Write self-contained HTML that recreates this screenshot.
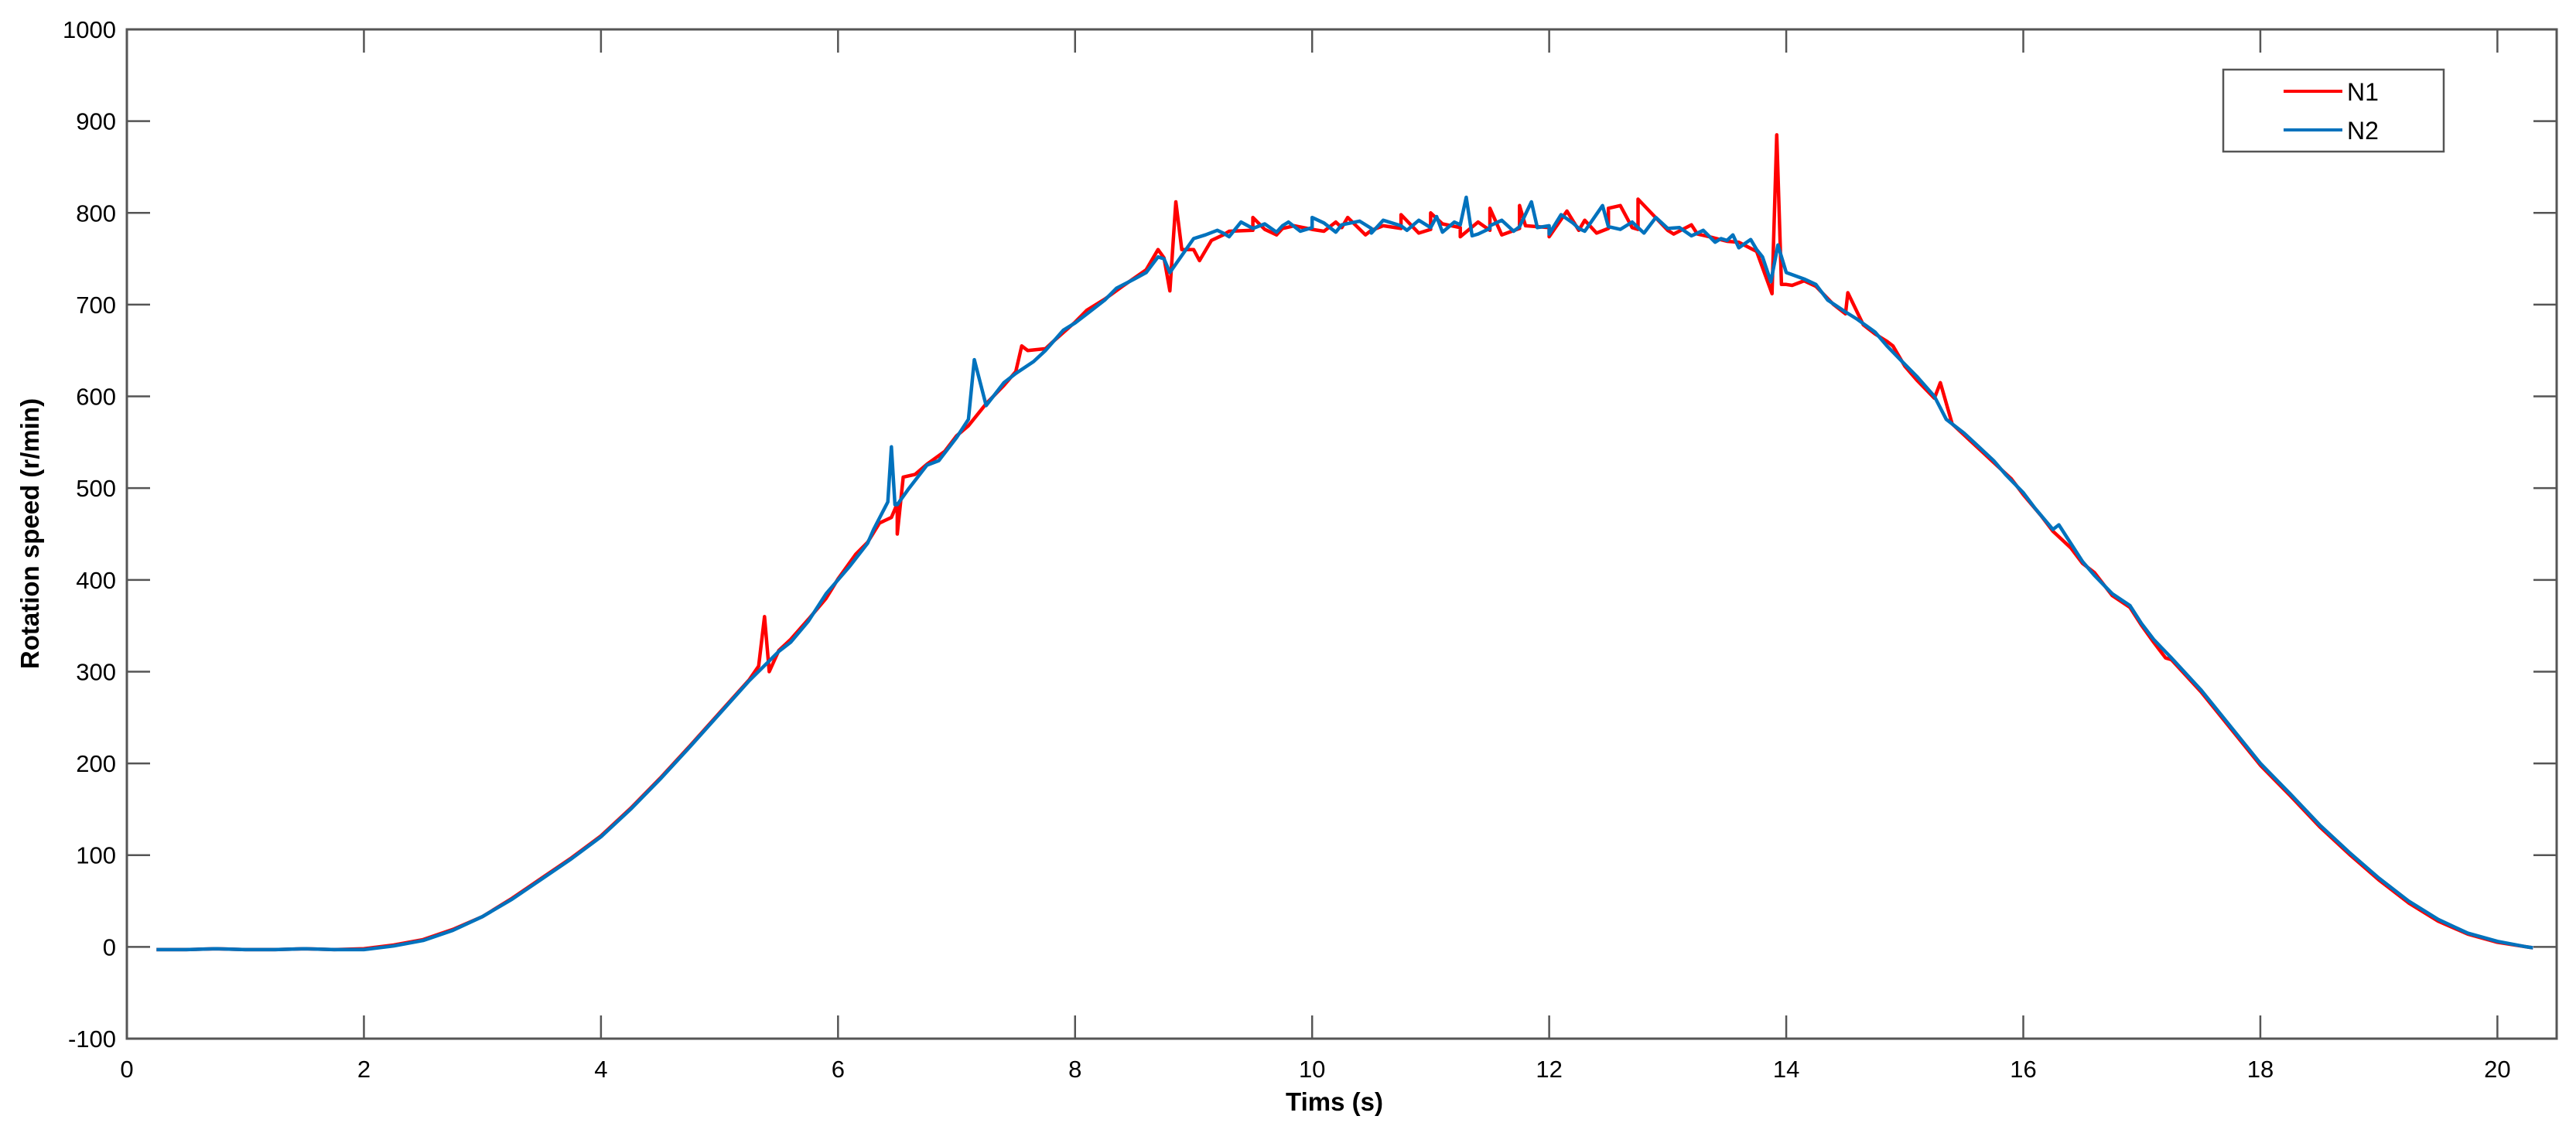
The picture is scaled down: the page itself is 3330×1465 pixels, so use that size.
<!DOCTYPE html>
<html><head><meta charset="utf-8"><style>
html,body{margin:0;padding:0;background:#fff;}
svg{display:block;font-family:"Liberation Sans",Arial,sans-serif;}
</style></head><body>
<svg id="chart" width="3330" height="1465" viewBox="0 0 3330 1465" xmlns="http://www.w3.org/2000/svg">
<rect x="0" y="0" width="3330" height="1465" fill="#fff"/>
<g id="axes"></g>
<g id="series"></g>
<rect x="164" y="38" width="3141" height="1305" fill="none" stroke="#555" stroke-width="3"/>
<text x="1725" y="1436" font-size="33" font-weight="bold" text-anchor="middle">Tims (s)</text>
<text transform="translate(50,690) rotate(-90)" font-size="33" font-weight="bold" text-anchor="middle">Rotation speed (r/min)</text>
<g>
<rect x="2874" y="90" width="285" height="106" fill="#fff" stroke="#555" stroke-width="2.5"/>
<line x1="2952" y1="118" x2="3028" y2="118" stroke="#FF0000" stroke-width="4"/>
<text x="3034" y="130" font-size="32">N1</text>
<line x1="2952" y1="168" x2="3028" y2="168" stroke="#0072BD" stroke-width="4"/>
<text x="3034" y="180" font-size="32">N2</text>
</g>
</svg>
<script>
const xTicks = [0,2,4,6,8,10,12,14,16,18,20];
const yTicks = [-100,0,100,200,300,400,500,600,700,800,900,1000];
const times = [0.25,0.5,0.75,1,1.25,1.5,1.75,2,2.25,2.5,2.75,3,3.25,3.5,3.75,4,4.25,4.5,4.75,5,5.25,5.5,5.75,6,6.25,6.5,6.75,7,7.25,7.5,7.75,8,8.25,8.5,8.75,9,9.25,9.5,9.75,10,10.25,10.5,10.75,11,11.25,11.5,11.75,12,12.25,12.5,12.75,13,13.25,13.5,13.75,14,14.25,14.5,14.75,15,15.25,15.5,15.75,16,16.25,16.5,16.75,17,17.25,17.5,17.75,18,18.25,18.5,18.75,19,19.25,19.5,19.75,20,20.25,20.3];
const n2Values = [-3,-3,-2,-3,-3,-2,-3,-3,1,7,18,33,52,74,96,120,150,183,218,254,290,322,355,400,440,482,525,555,590,625,650,680,705,728,750,772,778,783,786,784,787,783,786,784,787,783,785,786,783,785,784,783,778,770,760,735,722,692,670,635,600,560,530,495,455,420,385,352,315,280,240,200,167,133,103,75,50,30,15,6,0,-1];
const n1Values = [-3,-3,-2,-3,-3,-2,-3,-2,2,8,19,33,53,75,97,121,151,184,219,255,291,323,357,401,441,483,526,557,592,627,652,681,706,729,751,760,776,781,783,782,784,781,783,782,784,781,783,784,781,783,782,781,777,769,758,722,720,690,668,633,598,558,528,493,453,418,383,350,313,278,238,198,165,131,101,73,48,28,14,5,0,-1];
const n1SpikeT = [5.33,5.38,5.42,5.6,5.9,6.15,6.35,6.45,6.5,6.55,6.65,6.9,7.1,7.4,7.55,7.6,7.8,8.1,8.4,8.6,8.7,8.8,8.85,8.9,9.05,9.15,9.3,9.5,9.6,9.7,9.85,10.1,10.2,10.3,10.45,10.6,10.75,10.9,11.0,11.1,11.25,11.4,11.5,11.6,11.75,11.8,12.0,12.15,12.3,12.4,12.5,12.6,12.7,12.75,13.05,13.2,13.35,13.6,13.75,13.88,13.92,13.96,14.05,14.15,14.4,14.52,14.65,14.85,14.9,15.1,15.3,15.4,15.65,15.9,16.15,16.4,16.6,16.9,17.1,17.2];
const n1SpikeV = [306,360,300,335,380,428,462,468,450,512,515,540,568,612,655,650,658,694,720,738,760,715,812,760,748,770,780,795,782,776,786,780,790,795,776,786,798,778,800,788,774,790,805,776,808,786,774,802,792,778,805,808,784,815,777,787,774,768,758,712,885,722,721,726,700,713,678,660,655,618,615,570,540,510,470,435,408,370,332,315];
const n2SpikeT = [5.6,5.9,6.1,6.3,6.42,6.45,6.48,6.6,6.85,7.1,7.15,7.4,7.65,7.9,8.1,8.35,8.6,8.7,8.8,9.1,9.2,9.3,9.4,9.6,9.7,9.8,9.9,10.0,10.1,10.2,10.4,10.5,10.6,10.7,10.8,10.9,11.05,11.1,11.2,11.3,11.35,11.4,11.5,11.6,11.7,11.85,11.9,12.0,12.1,12.2,12.3,12.45,12.6,12.7,12.8,12.9,13.1,13.2,13.3,13.4,13.45,13.55,13.6,13.7,13.8,13.87,13.93,14.15,14.35,14.6,14.85,15.1,15.35,15.6,15.85,16.1,16.3,16.4,16.6,16.9,17.1];
const n2SpikeV = [332,385,415,455,485,545,482,500,530,575,640,615,638,672,690,718,735,752,735,776,781,774,790,788,779,790,780,795,789,779,791,778,792,788,781,792,796,779,790,817,775,777,786,792,780,812,784,777,798,789,780,808,782,790,778,795,784,775,781,768,772,776,762,771,752,725,765,728,705,684,655,622,575,548,515,478,460,440,405,372,335];

const X0=164, X1=3305, Y0=1343, Y1=38, XMIN=0, XMAX=20.5, YMIN=-100, YMAX=1000;
function xs(v){return X0+(v-XMIN)/(XMAX-XMIN)*(X1-X0);}
function ys(v){return Y0-(v-YMIN)/(YMAX-YMIN)*(Y0-Y1);}
const NS="http://www.w3.org/2000/svg";
const axes=document.getElementById('axes');
const series=document.getElementById('series');
function mk(tag,attrs,parent){const e=document.createElementNS(NS,tag);for(const k in attrs)e.setAttribute(k,attrs[k]);parent.appendChild(e);return e;}

xTicks.forEach(t=>{
  const x=xs(t);
  const a=mk('line',{x1:x,y1:Y0,x2:x,y2:Y0-30,stroke:'#555','stroke-width':2.5},axes);
  
  
  const b=mk('line',{x1:x,y1:Y1,x2:x,y2:Y1+30,stroke:'#555','stroke-width':2.5},axes);
  
  
  const l=mk('text',{x:x,y:Y0+50,'font-size':31,'text-anchor':'middle'},axes);
  l.textContent=t;
  
  
});
yTicks.forEach(t=>{
  const y=ys(t);
  const a=mk('line',{x1:X0,y1:y,x2:X0+30,y2:y,stroke:'#555','stroke-width':2.5},axes);
  
  
  const b=mk('line',{x1:X1,y1:y,x2:X1-30,y2:y,stroke:'#555','stroke-width':2.5},axes);
  
  
  const l=mk('text',{x:X0-14,y:y+11,'font-size':31,'text-anchor':'end'},axes);
  l.textContent=t;
  
  
});

function merged(ts,vs,st,sv){
  const pts=ts.map((t,i)=>[t,vs[i]]).concat(st.map((t,i)=>[t,sv[i]]));
  pts.sort((a,b)=>a[0]-b[0]);
  return pts.map(p=>xs(p[0]).toFixed(1)+','+ys(p[1]).toFixed(1)).join(' ');
}
const p1=mk('polyline',{points:merged(times,n1Values,n1SpikeT,n1SpikeV),fill:'none',stroke:'#FF0000','stroke-width':4.5,'stroke-linejoin':'round'},series);


const p2=mk('polyline',{points:merged(times,n2Values,n2SpikeT,n2SpikeV),fill:'none',stroke:'#0072BD','stroke-width':4.5,'stroke-linejoin':'round'},series);


</script>
</body></html>
